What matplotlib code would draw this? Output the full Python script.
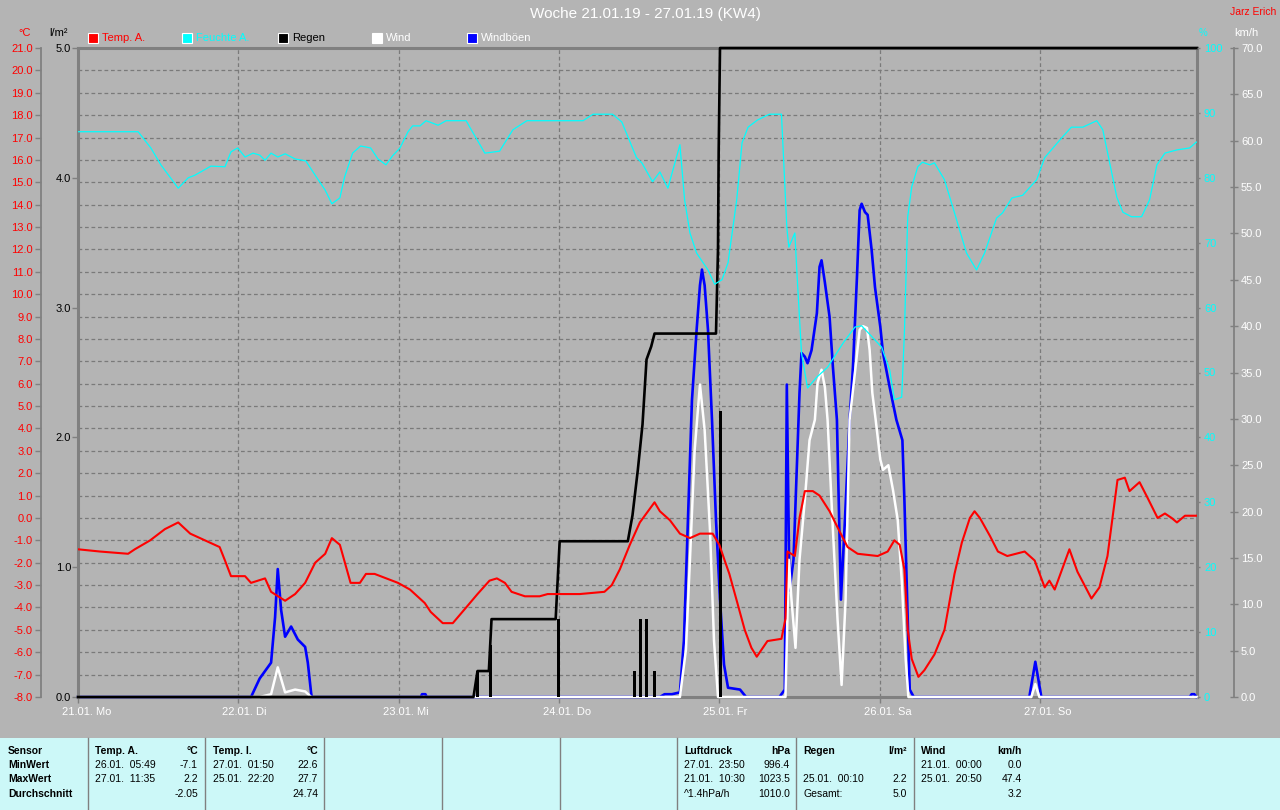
import matplotlib
matplotlib.use("Agg")
import matplotlib.pyplot as plt
from matplotlib.patches import Rectangle
from matplotlib.lines import Line2D
from matplotlib.transforms import ScaledTranslation
from matplotlib.ticker import MultipleLocator, FormatStrFormatter

plt.rcParams['font.family'] = ['Liberation Sans', 'DejaVu Sans']
plt.rcParams['axes.unicode_minus'] = False

# ---------------- data (time in hours since 21.01. 00:00) ----------------
day_hours = [0, 24, 48, 72, 96, 120, 144]
day_labels = ["21.01. Mo", "22.01. Di", "23.01. Mi", "24.01. Do", "25.01. Fr", "26.01. Sa", "27.01. So"]

temp_t = [0, 3.3, 7.5, 8.5, 10.8, 13.0, 15.0, 16.8, 19.0, 21.2,
          22.0, 22.9, 25.0, 25.9, 28.0, 28.9, 31.0, 32.5, 34.0, 35.5,
          37.0, 38.0, 39.2, 40.8, 42.2, 43.1, 44.4, 47.9, 49.7, 51.9,
          52.8, 54.6, 56.1, 58.1, 59.8, 61.6, 62.7, 63.9, 64.9, 66.9,
          69.1, 70.3, 75.1, 78.8, 79.9, 81.1, 82.6, 84.1, 86.3, 87.1,
          88.6, 90.1, 91.6, 93.1, 95.0, 96.0, 96.8, 97.5, 98.7, 99.8,
          100.8, 101.6, 103.2, 105.3, 105.9, 106.2, 107.3, 108.0, 108.8, 110.0,
          111.0, 112.5, 114.0, 115.2, 116.7, 119.7, 121.2, 122.2, 123.0, 123.7,
          124.2, 124.8, 125.8, 126.7, 128.2, 129.7, 131.2, 132.3, 133.5, 134.2,
          135.0, 136.5, 137.7, 139.1, 141.7, 143.2, 144.7, 145.4, 146.2, 148.4,
          149.6, 151.7, 152.9, 154.1, 155.6, 156.7, 157.4, 158.9, 160.1, 161.6,
          162.7, 163.7, 164.5, 165.7, 167.4]
temp_v = [-1.4, -1.5, -1.6, -1.4, -1.0, -0.5, -0.2, -0.7, -1.0, -1.3,
          -1.9, -2.6, -2.6, -2.9, -2.7, -3.3, -3.7, -3.4, -2.9, -2.0,
          -1.6, -0.9, -1.2, -2.9, -2.9, -2.5, -2.5, -2.9, -3.2, -3.8,
          -4.2, -4.7, -4.7, -4.0, -3.4, -2.8, -2.7, -2.9, -3.3, -3.5,
          -3.5, -3.4, -3.4, -3.3, -3.0, -2.3, -1.2, -0.2, 0.7, 0.3,
          -0.1, -0.7, -0.9, -0.7, -0.7, -1.2, -1.9, -2.5, -3.8, -5.0,
          -5.8, -6.2, -5.5, -5.4, -4.5, -1.5, -1.7, 0.0, 1.2, 1.2,
          1.0, 0.3, -0.6, -1.3, -1.6, -1.7, -1.5, -1.0, -1.2, -2.3,
          -5.0, -6.3, -7.1, -6.8, -6.1, -5.0, -2.5, -1.1, 0.0, 0.3,
          0.0, -0.8, -1.5, -1.7, -1.5, -1.9, -3.1, -2.8, -3.2, -1.4,
          -2.4, -3.6, -3.1, -1.7, 1.7, 1.8, 1.2, 1.6, 0.9, 0.0,
          0.2, 0.0, -0.2, 0.1, 0.1]

hum_t = [0, 9.0, 10.9, 12.4, 15.0, 16.5, 17.5, 19.9, 22.0, 22.9,
         23.9, 25.0, 26.2, 27.2, 28.0, 28.9, 29.9, 31.0, 32.5, 34.1,
         35.5, 37.0, 38.0, 39.2, 39.9, 41.1, 42.3, 43.8, 44.9, 46.1,
         47.1, 48.2, 49.4, 50.1, 51.2, 52.1, 53.9, 55.1, 58.1, 58.7,
         60.9, 63.1, 65.1, 67.2, 75.6, 77.1, 80.0, 81.4, 83.6, 84.4,
         86.0, 87.1, 88.3, 90.1, 90.8, 91.6, 92.6, 94.3, 95.3, 96.4,
         97.3, 98.6, 99.4, 100.3, 101.7, 103.5, 105.3, 106.1, 106.4, 107.3,
         107.7, 108.3, 109.2, 110.6, 112.2, 114.5, 116.3, 117.3, 120.3, 121.5,
         122.2, 123.3, 123.7, 124.2, 124.8, 125.7, 126.4, 127.5, 128.2, 129.7,
         131.2, 133.0, 134.5, 135.7, 137.5, 138.4, 139.8, 141.4, 143.5, 144.7,
         147.2, 148.7, 150.4, 152.5, 153.4, 155.5, 156.4, 157.7, 159.2, 160.4,
         161.5, 162.7, 164.5, 166.4, 167.4]
hum_v = [87.1, 87.1, 84.6, 82.0, 78.4, 80.0, 80.4, 81.8, 81.7, 84.0,
         84.6, 83.2, 83.8, 83.5, 82.7, 83.8, 83.2, 83.7, 82.9, 82.6,
         80.4, 78.1, 76.0, 76.9, 80.1, 83.8, 84.9, 84.6, 82.9, 82.0,
         83.4, 84.6, 87.1, 88.0, 88.0, 88.8, 88.1, 88.8, 88.8, 87.7,
         83.8, 84.1, 87.4, 88.8, 88.8, 89.8, 89.8, 88.6, 83.1, 82.3,
         79.4, 80.9, 78.4, 85.1, 76.6, 71.5, 68.4, 65.8, 63.6, 64.3,
         66.9, 76.6, 85.4, 87.8, 88.9, 89.8, 89.8, 72.4, 69.3, 71.5,
         63.8, 53.0, 47.6, 49.3, 50.8, 54.5, 57.0, 57.2, 53.9, 50.4,
         45.8, 46.2, 56.1, 74.0, 78.6, 81.7, 82.4, 82.0, 82.3, 79.7,
         74.6, 68.4, 65.8, 68.4, 73.8, 74.6, 76.9, 77.3, 79.7, 83.1,
         86.1, 87.8, 87.8, 88.8, 87.4, 77.0, 74.7, 74.0, 74.0, 76.6,
         82.0, 83.8, 84.3, 84.6, 85.5]

rain_t = [0, 59.2, 59.8, 61.5, 61.9, 71.5, 72.1, 82.3, 83.0, 83.8,
          84.5, 85.1, 85.8, 86.3, 95.5, 95.8, 95.9, 96.1, 167.5]
rain_v = [0, 0, 0.2, 0.2, 0.6, 0.6, 1.2, 1.2, 1.4, 1.75,
          2.1, 2.6, 2.7, 2.8, 2.8, 3.45, 4.2, 5.0, 5.0]

rainbar_t = [59.8, 61.8, 71.9, 83.3, 84.2, 85.1, 86.3, 96.2]
rainbar_v = [0.2, 0.4, 0.6, 0.2, 0.6, 0.6, 0.2, 2.2]

gust_t = [0, 25.9, 27.2, 28.9, 29.5, 29.9, 30.4, 31.0, 31.9, 32.9, 34.0, 34.4, 34.9, 35.0,
          51.3, 51.5, 52.0, 52.2,
          87.1, 87.8, 88.9, 90.1, 90.7, 91.3, 91.9, 92.6, 93.1, 93.4, 93.8, 94.3, 94.9, 95.5,
          96.1, 96.7, 97.3, 99.1, 100.0,
          105.0, 105.8, 106.1, 106.5, 107.1, 108.0, 108.3, 108.8, 109.2, 109.8,
          110.6, 111.0, 111.3, 111.8, 112.5, 113.0, 113.6, 114.2, 114.8, 115.5,
          116.0, 116.6, 117.0, 117.3, 117.8, 118.2, 118.8, 119.3, 120.1, 120.5,
          121.5, 122.5, 123.4, 123.7, 124.2, 124.5, 125.1,
          142.4, 143.3, 144.2,
          166.4, 166.7, 167.1, 167.4]
gust_v = [0, 0, 2.0, 3.7, 8.6, 13.8, 9.4, 6.5, 7.6, 6.2, 5.4, 3.7, 0.4, 0,
          0, 0.3, 0.3, 0,
          0, 0.3, 0.3, 0.5, 6.1, 19.1, 32.0, 39.6, 44.4, 46.1, 44.4, 39.6, 29.9, 19.1,
          10.5, 3.5, 1.0, 0.8, 0,
          0, 0.8, 33.7, 11.5, 14.8, 32.8, 37.1, 36.7, 36.0, 37.4,
          41.4, 46.4, 47.1, 44.7, 41.0, 35.6, 29.9, 10.5, 19.1, 29.9,
          35.6, 45.3, 52.5, 53.2, 52.3, 52.0, 48.2, 44.2, 39.9, 37.1,
          33.4, 29.9, 27.7, 21.3, 8.3, 0.8, 0,
          0, 3.8, 0,
          0, 0.3, 0.3, 0]

wind_t = [0, 27.2, 28.9, 29.9, 31.0, 32.5, 34.0, 34.9,
          90.1, 91.0, 91.6, 92.3, 93.1, 93.8, 94.6, 95.2, 95.8,
          105.9, 106.4, 106.8, 107.4, 108.0, 108.8, 109.5, 110.3, 110.7, 111.3,
          111.8, 112.2, 113.0, 113.7, 114.3, 114.9, 115.5, 116.3, 117.0, 117.5,
          118.1, 118.5, 118.9, 119.4, 120.1, 120.5, 121.3, 122.0, 122.7, 123.3,
          123.9, 124.3,
          142.7, 143.3, 143.9, 167.5]
wind_v = [0, 0, 0.3, 3.2, 0.5, 0.8, 0.6, 0,
          0, 5.1, 14.8, 26.6, 33.7, 28.8, 18.0, 6.1, 0,
          0, 14.8, 10.5, 5.3, 14.8, 21.3, 27.7, 29.9, 33.9, 35.3,
          33.4, 29.9, 18.0, 8.3, 1.3, 10.5, 29.9, 35.0, 39.6, 40.0,
          39.8, 37.4, 32.8, 29.9, 25.6, 24.5, 25.0, 22.3, 19.1, 12.6,
          4.0, 0,
          0, 1.4, 0, 0]

legend_names = ["Temp. A.", "Feuchte A.", "Regen", "Wind", "Windböen"]

table_rows = ["Sensor", "MinWert", "MaxWert", "Durchschnitt"]
table_cols = [
    ("Temp. A.", "°C", ["26.01.  05:49", "27.01.  11:35", ""], ["-7.1", "2.2", "-2.05"]),
    ("Temp. I.", "°C", ["27.01.  01:50", "25.01.  22:20", ""], ["22.6", "27.7", "24.74"]),
    ("Luftdruck", "hPa", ["27.01.  23:50", "21.01.  10:30", "^1.4hPa/h"], ["996.4", "1023.5", "1010.0"]),
    ("Regen", "l/m²", ["", "25.01.  00:10", "Gesamt:"], ["", "2.2", "5.0"]),
    ("Wind", "km/h", ["21.01.  00:00", "25.01.  20:50", ""], ["0.0", "47.4", "3.2"]),
]

# ---------------- figure ----------------
W, H = 1280, 810
fig = plt.figure(figsize=(12.8, 8.1), dpi=100)
BG = '#B4B4B4'
GRAY = '#808080'
fig.patch.set_facecolor(BG)

def fx(px):
    return px / W

def fy(py):
    return 1 - py / H

L, R, T, B = 78, 1197, 48, 697
PT = 0.72  # points per pixel

ax = fig.add_axes([fx(L), fy(B), (R - L) / W, (B - T) / H])
ax.set_facecolor(BG)
ax.set_xlim(0, 167.5)
ax.set_ylim(-8, 21)
ax.yaxis.set_major_locator(MultipleLocator(1))
ax.yaxis.set_major_formatter(FormatStrFormatter('%.1f'))
ax.set_xticks(day_hours)
ax.set_xticklabels([])
ax.grid(True, color='#7A7A7A', linestyle=(0, (3.0, 2.2)), linewidth=0.9)
ax.spines['left'].set_position(('outward', 37 * PT))
ax.spines['left'].set_color(GRAY)
ax.spines['left'].set_linewidth(1.3)
for s in ['bottom', 'top', 'right']:
    ax.spines[s].set_color(GRAY)
    ax.spines[s].set_linewidth(2.2)
ax.tick_params(axis='y', colors=GRAY, labelcolor='#FF0000', length=4.5, width=1,
               pad=1.5, labelsize=8)
ax.tick_params(axis='x', colors=GRAY, length=4, width=1)

tr_lab = ax.get_xaxis_transform() + ScaledTranslation(-16 / 100, -15 / 100, fig.dpi_scale_trans)
for d, lab in zip(day_hours, day_labels):
    ax.text(d, 0, lab, transform=tr_lab, ha='left', va='center', color='white', fontsize=8)

# wind axis (right, outward)
ax_w = ax.twinx()
ax_w.set_ylim(0, 70)
ax_w.yaxis.set_major_locator(MultipleLocator(5))
ax_w.yaxis.set_major_formatter(FormatStrFormatter('%.1f'))
for s in ['left', 'top', 'bottom']:
    ax_w.spines[s].set_visible(False)
ax_w.spines['right'].set_position(('outward', 37 * PT))
ax_w.spines['right'].set_color(GRAY)
ax_w.spines['right'].set_linewidth(1.3)
ax_w.tick_params(axis='y', colors=GRAY, labelcolor='white', direction='inout', length=6,
                 width=1, pad=2, labelsize=8)
ax_w.plot(gust_t, gust_v, color='#0000FF', lw=1.9, clip_on=False, zorder=2)
ax_w.plot(wind_t, wind_v, color='white', lw=1.8, clip_on=False, zorder=3)

# rain axis (left, on frame)
ax_r = ax.twinx()
ax_r.set_ylim(0, 5)
ax_r.yaxis.tick_left()
ax_r.set_yticks([0, 1, 2, 3, 4, 5])
ax_r.yaxis.set_major_formatter(FormatStrFormatter('%.1f'))
for s in ['right', 'top', 'bottom']:
    ax_r.spines[s].set_visible(False)
ax_r.spines['left'].set_color(GRAY)
ax_r.spines['left'].set_linewidth(2.2)
ax_r.tick_params(axis='y', colors=GRAY, labelcolor='black', length=4.5, width=1,
                 pad=0.5, labelsize=8)
ax_r.bar(rainbar_t, rainbar_v, width=0.45, color='black', zorder=2)
ax_r.plot(rain_t, rain_v, color='black', lw=1.9, clip_on=False, zorder=3)

# temperature line
ax_tt = ax.twinx()
ax_tt.set_ylim(-8, 21)
ax_tt.axis('off')
ax_tt.plot(temp_t, temp_v, color='#FF0000', lw=1.5, zorder=3)

# humidity axis (right, on frame)
ax_h = ax.twinx()
ax_h.set_ylim(0, 100)
ax_h.yaxis.set_major_locator(MultipleLocator(10))
for s in ['left', 'top', 'bottom', 'right']:
    ax_h.spines[s].set_visible(False)
ax_h.tick_params(axis='y', colors=GRAY, labelcolor='#00FFFF', length=2, width=1,
                 pad=3, labelsize=8)
ax_h.plot(hum_t, hum_v, color='#00FFFF', lw=0.9, zorder=3)

# ---------------- header texts ----------------
fig.text(fx(645), fy(14), "Woche 21.01.19 - 27.01.19 (KW4)", color='white',
         fontsize=11, ha='center', va='center')
fig.text(fx(1276), fy(12), "Jarz Erich", color='#FF0000', fontsize=7.5, ha='right', va='center')
fig.text(fx(25), fy(33), "°C", color='#FF0000', fontsize=8, ha='center', va='center')
fig.text(fx(58), fy(33), "l/m²", color='black', fontsize=8, ha='center', va='center')
fig.text(fx(1203), fy(33), "%", color='#00FFFF', fontsize=7, ha='center', va='center')
fig.text(fx(1246), fy(33), "km/h", color='white', fontsize=8, ha='center', va='center')

legend_colors = ['#FF0000', '#00FFFF', '#000000', '#FFFFFF', '#0000FF']
legend_text_colors = ['#FF0000', '#00FFFF', '#000000', '#FFFFFF', '#FFFFFF']
legend_x = [88, 182, 278, 372, 467]
for name, c, tc, x0 in zip(legend_names, legend_colors, legend_text_colors, legend_x):
    fig.add_artist(Rectangle((fx(x0), fy(43)), 10 / W, 10 / H, transform=fig.transFigure,
                             facecolor=c, edgecolor='white', lw=0.8))
    fig.text(fx(x0 + 14), fy(38), name, color=tc, fontsize=8, ha='left', va='center')

# ---------------- bottom table ----------------
fig.add_artist(Rectangle((0, 0), 1, (810 - 738) / H, transform=fig.transFigure,
                         facecolor='#CCF8F8', edgecolor='none'))
for xs in [88, 205, 324, 442, 560, 677, 796, 914]:
    fig.add_artist(Line2D([fx(xs), fx(xs)], [fy(738), fy(810)], transform=fig.transFigure,
                          color=GRAY, lw=1))
row_y = [751, 765, 779, 794]
for yy, lab in zip(row_y, table_rows):
    fig.text(fx(8), fy(yy), lab, fontsize=7.5, fontweight='bold', ha='left', va='center')
col_pos = [(95, 198), (213, 318), (684, 790), (803, 907), (921, 1022)]
for (xl, xr), (head, unit, lefts, rights) in zip(col_pos, table_cols):
    fig.text(fx(xl), fy(row_y[0]), head, fontsize=7.5, fontweight='bold', ha='left', va='center')
    fig.text(fx(xr), fy(row_y[0]), unit, fontsize=7.5, fontweight='bold', ha='right', va='center')
    for yy, lt, rt in zip(row_y[1:], lefts, rights):
        fig.text(fx(xl), fy(yy), lt, fontsize=7.5, ha='left', va='center')
        fig.text(fx(xr), fy(yy), rt, fontsize=7.5, ha='right', va='center')

fig.savefig("out.png", dpi=100, facecolor=BG)
